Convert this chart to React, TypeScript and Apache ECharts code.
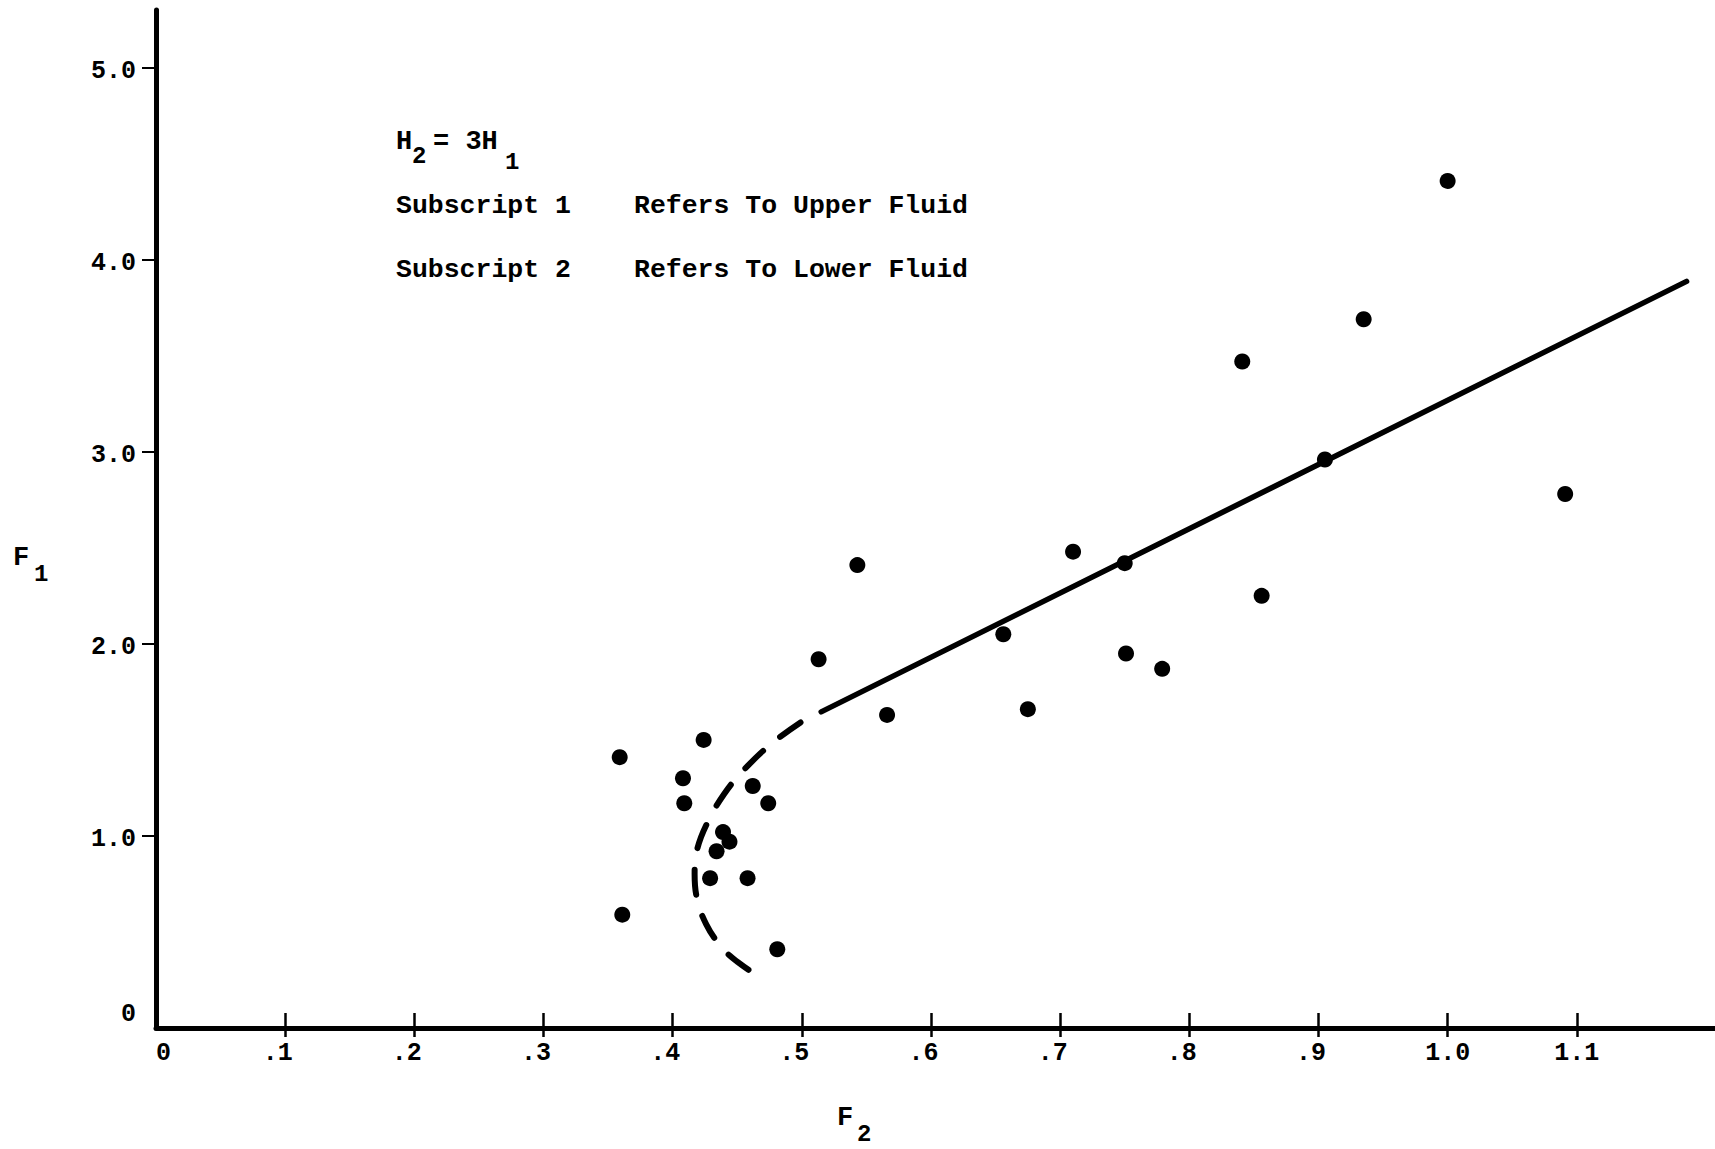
import React, { useEffect, useRef } from "react";
import * as echarts from "echarts";

// Measured points (F2 horizontal, F1 vertical)
const pointsF2 = [1.0, 0.935, 0.841, 0.905, 1.091, 0.71, 0.543, 0.75, 0.856, 0.656, 0.751, 0.779, 0.513, 0.566, 0.675, 0.424, 0.359, 0.408, 0.462, 0.409, 0.474, 0.439, 0.444, 0.434, 0.429, 0.458, 0.361, 0.481];
const pointsF1 = [4.41, 3.69, 3.47, 2.96, 2.78, 2.48, 2.41, 2.42, 2.25, 2.05, 1.95, 1.87, 1.92, 1.63, 1.66, 1.5, 1.41, 1.3, 1.26, 1.17, 1.17, 1.02, 0.97, 0.92, 0.78, 0.78, 0.59, 0.41];

// Solid fitted line
const fitF2 = [0.515, 1.185];
const fitF1 = [1.646, 3.887];

// Dashed curve
const curveF2 = [0.499, 0.477, 0.456, 0.44, 0.427, 0.419, 0.417, 0.419, 0.426, 0.438, 0.451, 0.469];
const curveF1 = [1.591, 1.483, 1.35, 1.22, 1.07, 0.93, 0.8, 0.67, 0.54, 0.42, 0.34, 0.258];

// Ticks
const xTickValues = [0, 0.1, 0.2, 0.3, 0.4, 0.5, 0.6, 0.7, 0.8, 0.9, 1.0, 1.1];
const xTickLabels = ["0", ".1", ".2", ".3", ".4", ".5", ".6", ".7", ".8", ".9", "1.0", "1.1"];
const yTickValues = [0, 1, 2, 3, 4, 5];
const yTickLabels = ["0", "1.0", "2.0", "3.0", "4.0", "5.0"];

const noteTitle = ["H", "2", "= 3H", "1"];
const noteLeft = ["Subscript 1", "Subscript 2"];
const noteRight = ["Refers To Upper Fluid", "Refers To Lower Fluid"];

const FONT = '"Liberation Mono", "DejaVu Sans Mono", monospace';
const INK = "#000000";

export default function App() {
  const ref = useRef<HTMLDivElement>(null);

  useEffect(() => {
    document.body.style.margin = "0";
    if (!ref.current) return;
    const chart = echarts.init(ref.current, undefined, { renderer: "svg" });

    const idxOf = (arr: number[], v: number) => arr.findIndex((a) => Math.abs(a - v) < 1e-6);

    const txt = (text: string, x: number, y: number, size = 26, align = "left") => ({
      type: "text",
      x,
      y,
      style: {
        text,
        font: `bold ${size}px ${FONT}`,
        fill: INK,
        align,
        verticalAlign: "middle",
      },
    });

    const labelFont = { fontFamily: FONT, fontWeight: "bold", fontSize: 25, color: INK };

    const option: any = {
      animation: false,
      backgroundColor: "#ffffff",
      grid: { left: 156, right: 0, top: 10, bottom: 121, containLabel: false },
      xAxis: [
        {
          type: "value",
          min: 0,
          max: 1.207,
          interval: 0.1,
          axisLine: { show: true, onZero: false, lineStyle: { color: INK, width: 5 } },
          axisTick: {
            show: true,
            inside: true,
            length: 15,
            lineStyle: { color: INK, width: 2.5 },
            customValues: xTickValues.slice(1),
          },
          axisLabel: {
            show: true,
            margin: 13,
            customValues: xTickValues,
            ...labelFont,
            formatter: (v: number) => {
              const i = idxOf(xTickValues, v);
              if (i < 0) return "";
              const s = xTickLabels[i];
              if (s.length === 3) return s;
              return s.length === 1 ? `{o|${s}}` : `{d|${s}}`;
            },
            rich: {
              d: { padding: [0, 15, 0, 0], ...labelFont },
              o: { padding: [0, 0, 0, 15], ...labelFont },
            },
          },
          splitLine: { show: false },
        },
        {
          type: "value",
          position: "bottom",
          min: 0,
          max: 1.207,
          interval: 0.1,
          axisLine: { show: false, onZero: false },
          axisTick: {
            show: true,
            inside: false,
            length: 9,
            lineStyle: { color: INK, width: 2.5 },
            customValues: xTickValues.slice(1),
          },
          axisLabel: { show: false },
          splitLine: { show: false },
        },
      ],
      yAxis: {
        type: "value",
        min: 0,
        max: 5.3,
        interval: 1,
        axisLine: { show: true, onZero: false, lineStyle: { color: INK, width: 5 } },
        axisTick: {
          show: true,
          inside: false,
          length: 14,
          lineStyle: { color: INK, width: 2 },
          customValues: yTickValues.slice(1),
        },
        axisLabel: {
          show: true,
          margin: 20,
          customValues: yTickValues,
          ...labelFont,
          formatter: (v: number) => {
            const i = idxOf(yTickValues, v);
            if (i < 0) return "";
            const s = yTickLabels[i];
            return v === 0 ? `{z|${s}}` : `{n|${s}}`;
          },
          rich: {
            z: { padding: [0, 0, 28, 0], ...labelFont },
            n: { padding: [8, 0, 0, 0], ...labelFont },
          },
        },
        splitLine: { show: false },
      },
      graphic: [
        txt("F", 13, 558, 27),
        txt("1", 34, 574, 24),
        txt("F", 837, 1118, 27),
        txt("2", 857, 1134, 24),
        txt(noteTitle[0], 396, 142, 27),
        txt(noteTitle[1], 412, 156, 24),
        txt(noteTitle[2], 433, 142, 27),
        txt(noteTitle[3], 505, 162, 24),
        txt(noteLeft[0], 396, 206, 26.5),
        txt(noteRight[0], 634, 206, 26.5),
        txt(noteLeft[1], 396, 270, 26.5),
        txt(noteRight[1], 634, 270, 26.5),
      ],
      series: [
        {
          type: "line",
          name: "fit",
          xAxisIndex: 0,
          data: fitF2.map((x, i) => [x, fitF1[i]]),
          symbol: "none",
          lineStyle: { color: INK, width: 5.5, cap: "round" },
          silent: true,
        },
        {
          type: "line",
          name: "curve",
          xAxisIndex: 0,
          data: curveF2.map((x, i) => [x, curveF1[i]]),
          symbol: "none",
          smooth: 0.4,
          lineStyle: { color: INK, width: 6, type: [25, 22], cap: "round" },
          silent: true,
        },
        {
          type: "scatter",
          name: "data",
          xAxisIndex: 0,
          data: pointsF2.map((x, i) => [x, pointsF1[i]]),
          symbol: "circle",
          symbolSize: 16,
          itemStyle: { color: INK, opacity: 1 },
        },
      ],
    };

    chart.setOption(option);
    return () => chart.dispose();
  }, []);

  return <div ref={ref} style={{ width: 1715, height: 1149 }} />;
}
